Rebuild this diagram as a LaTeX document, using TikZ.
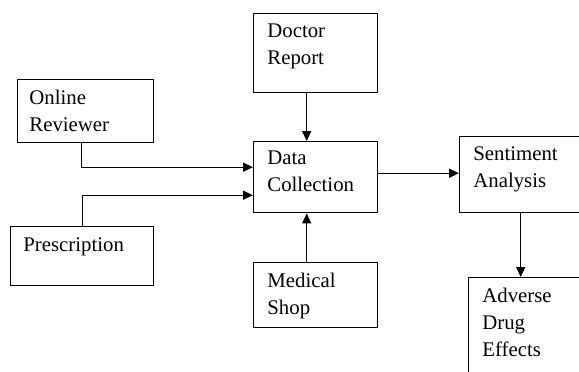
\documentclass[tikz,border=0pt]{standalone}
\usepackage{fontspec}
\setmainfont{Liberation Serif}
\usetikzlibrary{arrows.meta,positioning,calc}

\begin{document}
\begin{tikzpicture}[
    x=0.5pt, y=-0.5pt,
    blk/.style={rectangle, draw, line width=0.7pt, anchor=north west,
        inner sep=0pt},
    txt/.style={anchor=base west, align=left, inner sep=0pt, text width=50pt,
        font=\fontsize{10.4}{13.7}\selectfont},
    >={Triangle[length=5pt,width=4.5pt]}
]
\useasboundingbox (0,0) rectangle (579,371);
% boxes
\node[blk, minimum width=136*0.5pt, minimum height=63*0.5pt] (online) at (17,79) {};
\node[blk, minimum width=143*0.5pt, minimum height=59*0.5pt] (presc) at (10,226) {};
\node[blk, minimum width=124*0.5pt, minimum height=79*0.5pt] (doctor) at (253,13) {};
\node[blk, minimum width=124*0.5pt, minimum height=71*0.5pt] (data) at (253,141) {};
\node[blk, minimum width=124*0.5pt, minimum height=65*0.5pt] (shop) at (253,262) {};
\node[blk, minimum width=122*0.5pt, minimum height=76*0.5pt] (senti) at (459,136) {};
\node[blk, minimum width=130*0.5pt, minimum height=110*0.5pt] (adverse) at (468,277) {};
% texts
\node[txt] (online-t) at ($(online.north west)+(12,25)$) {Online\\Reviewer};
\node[txt] (presc-t) at ($(presc.north west)+(13,25)$) {Prescription};
\node[txt] (doctor-t) at ($(doctor.north west)+(14,24)$) {Doctor\\Report};
\node[txt] (data-t) at ($(data.north west)+(14,23)$) {Data\\Collection};
\node[txt] (shop-t) at ($(shop.north west)+(14,25)$) {Medical\\Shop};
\node[txt] (senti-t) at ($(senti.north west)+(14,24)$) {Sentiment\\Analysis};
\node[txt] (adverse-t) at ($(adverse.north west)+(14,25)$) {Adverse\\Drug\\Effects};
% arrows
\draw[->, line width=0.7pt] ([xshift=-2pt]online.south) |- ([yshift=5pt]data.west);
\draw[->, line width=0.7pt] (presc.north) |- ([yshift=-9pt]data.west);
\draw[->, line width=0.7pt] ([xshift=-4.5pt]doctor.south) -- ([xshift=-4.5pt]data.north);
\draw[->, line width=0.7pt] ([xshift=-4.5pt]shop.north) -- ([xshift=-4.5pt]data.south);
\draw[->, line width=0.7pt] ([yshift=2pt]data.east) -- ([yshift=2pt]data.east -| senti.west);
\draw[->, line width=0.7pt] (senti.south) -- (senti.south |- adverse.north);
\end{tikzpicture}
\end{document}
